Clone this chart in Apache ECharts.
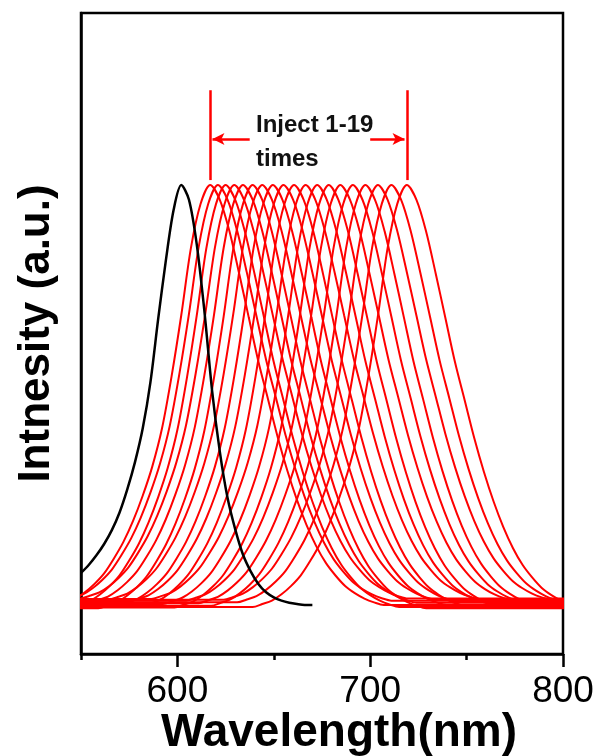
<!DOCTYPE html>
<html>
<head>
<meta charset="utf-8">
<script src="https://cdn.jsdelivr.net/npm/echarts@6/dist/echarts.min.js"></script>
<style>html,body{margin:0;padding:0;background:#fff}#c{width:596px;height:756px}</style>
</head>
<body>
<div id="c"></div>
<script>
// x tick labels
const xMajorTicks = [600, 700, 800];
const xMinorTicks = [550, 650, 750];

// black (initial) spectrum
const blackWavelengths = [550,554,558,562,566,570,574,578,582,586,590,594,598,602,606,610,614,618,622,626,630,634,638,642,646,650,654,658,662,666,670];
const blackIntensity   = [0.076,0.095,0.118,0.145,0.178,0.22,0.275,0.34,0.42,0.53,0.68,0.82,0.94,1.0,0.965,0.86,0.70,0.51,0.365,0.255,0.18,0.12,0.08,0.05,0.03,0.018,0.01,0.005,0.002,0.0,0.0];

// red spectra after injecting 1-19 times: peak wavelengths
const redPeaks = [617,621,625,629.5,634,639,644,649.5,655,660.5,666.5,672.5,678.5,684.5,691,697.5,704,711,719];
// baseline level of each red spectrum
const redBase = [0.0,0.01,-0.005,0.015,0.005,-0.008,0.012,0.0,0.008,-0.004,0.014,0.002,-0.006,0.01,0.004,-0.002,0.012,0.006,-0.005];
// common band shape of the red spectra (offset from peak in nm, relative intensity)
const profileOffsets = [-80,-75,-70,-65,-60,-55,-50,-45,-40,-35,-30,-25,-20,-15,-10,-5,0,5,10,15,20,25,30,35,40,45,50,55,60,65,70,75,80,85,90];
const profileValues  = [0,0.007,0.015,0.03,0.05,0.075,0.11,0.15,0.20,0.26,0.33,0.42,0.545,0.69,0.85,0.955,1.0,0.965,0.89,0.79,0.685,0.58,0.49,0.40,0.32,0.25,0.19,0.14,0.10,0.07,0.045,0.028,0.015,0.006,0];

const FONT = "'Liberation Sans', Arial, sans-serif";

const series = [];
redPeaks.forEach((p, i) => {
  const b = redBase[i];
  const data = [[530, b]];
  profileOffsets.forEach((o, k) => data.push([p + o, b + profileValues[k] * (1 - b)]));
  data.push([810, b]);
  series.push({
    type: 'line', data, showSymbol: false, smooth: 0.3,
    lineStyle: { color: '#ff0000', width: 2 }, silent: true, z: 2
  });
});

series.push({
  type: 'line',
  data: blackWavelengths.map((w, i) => [w, blackIntensity[i]]),
  showSymbol: false, smooth: 0.3,
  lineStyle: { color: '#000', width: 2.5 }, silent: true, z: 3,
  markLine: {
    silent: true, symbol: ['none', 'none'], animation: false,
    label: { show: false },
    lineStyle: { color: '#ff0000', width: 2.5, type: 'solid' },
    data: [
      [{ coord: [617, 1.012] }, { coord: [617, 1.226] }],
      [{ coord: [719, 1.012] }, { coord: [719, 1.226] }],
      [{ coord: [637.5, 1.11] }, { coord: [618.2, 1.11], symbol: 'arrow', symbolSize: [9, 12] }],
      [{ coord: [700, 1.11] }, { coord: [717.8, 1.11], symbol: 'arrow', symbolSize: [9, 12] }]
    ]
  }
});

const chart = echarts.init(document.getElementById('c'), null, { renderer: 'canvas' });
chart.setOption({
  animation: false,
  backgroundColor: '#fff',
  grid: { left: 81, right: 33, top: 13, bottom: 102, containLabel: false, outerBoundsMode: 'none', show: true, borderColor: '#000', borderWidth: 2.5, backgroundColor: 'transparent' },
  xAxis: [{
    type: 'value', min: 550, max: 800, position: 'bottom', offset: 0,
    name: 'Wavelength(nm)', nameLocation: 'middle', nameGap: 56, nameMoveOverlap: false,
    nameTextStyle: { fontFamily: FONT, fontWeight: 'bold', fontSize: 46, color: '#000', padding: [0, 0, 0, 34] },
    axisLine: { show: true, onZero: false, lineStyle: { color: '#000', width: 2.5 } },
    axisTick: { show: true, inside: false, length: 13, customValues: xMajorTicks, lineStyle: { color: '#000', width: 2.5 } },
    axisLabel: { show: true, customValues: xMajorTicks, margin: 19, fontFamily: FONT, fontSize: 37, color: '#000' },
    splitLine: { show: false }
  }, {
    type: 'value', min: 550, max: 800, position: 'bottom', offset: 0,
    axisLine: { show: false, onZero: false },
    axisTick: { show: true, inside: false, length: 6, customValues: xMinorTicks, lineStyle: { color: '#000', width: 2.5 } },
    axisLabel: { show: false },
    splitLine: { show: false }
  }],
  yAxis: {
    type: 'value', min: -0.117, max: 1.41,
    name: 'Intnesity (a.u.)', nameLocation: 'middle', nameGap: 22, nameMoveOverlap: false,
    nameTextStyle: { fontFamily: FONT, fontWeight: 'bold', fontSize: 44, color: '#000' },
    axisLine: { show: true, onZero: false, lineStyle: { color: '#000', width: 2.5 } },
    axisTick: { show: false }, axisLabel: { show: false }, splitLine: { show: false }
  },
  graphic: [{
    type: 'text', left: 256, top: 108, silent: true,
    style: { text: 'Inject 1-19\ntimes', fontFamily: FONT, fontWeight: 'bold', fontSize: 24, lineHeight: 34, fill: '#111' }
  }],
  series
});
</script>
</body>
</html>
